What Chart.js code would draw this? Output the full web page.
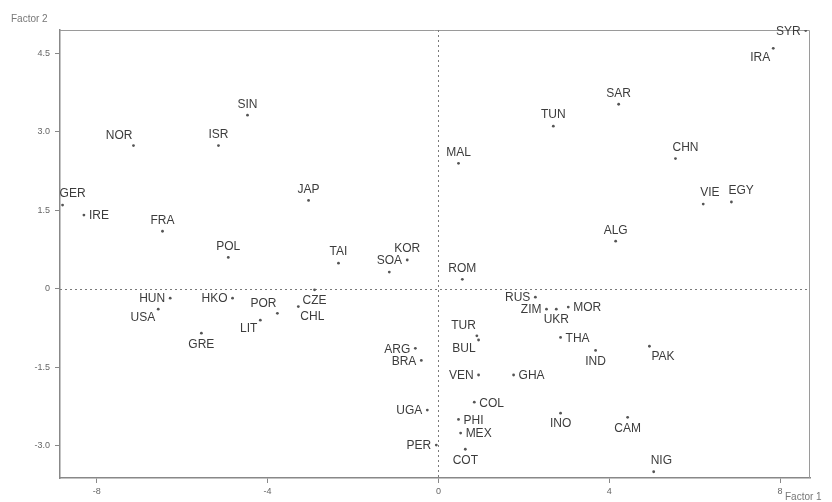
<!DOCTYPE html>
<html>
<head>
<meta charset="utf-8">
<script src="https://cdn.jsdelivr.net/npm/chart.js@4/dist/chart.umd.min.js"></script>
<style>
  html, body { margin: 0; padding: 0; background: #ffffff; }
  #wrap { width: 832px; height: 502px; }
</style>
</head>
<body>
<div id="wrap"><canvas id="c" width="832" height="502"></canvas></div>
<script>
// ---- Data ----
const countries = ['SYR','IRA','SAR','TUN','MAL','CHN','VIE','EGY','ALG','ROM',
  'RUS','ZIM','UKR','MOR','THA','IND','PAK','TUR','BUL','VEN','GHA','COL','PHI','MEX','COT',
  'INO','CAM','NIG','PER','UGA','ARG','BRA','CZE','CHL','HUN','USA','HKO','POR','LIT','GRE',
  'GER','IRE','FRA','NOR','ISR','SIN','JAP','POL','TAI','KOR','SOA'];
const factor1 = [8.6, 7.84, 4.22, 2.69, 0.47, 5.55, 6.2, 6.86, 4.15, 0.56,
  2.27, 2.53, 2.76, 3.04, 2.86, 3.68, 4.94, 0.9, 0.94, 0.94, 1.76, 0.84, 0.47, 0.52, 0.63,
  2.86, 4.43, 5.04, -0.05, -0.26, -0.54, -0.4, -2.9, -3.28, -6.28, -6.56, -4.82, -3.77, -4.17, -5.55,
  -8.8, -8.3, -6.46, -7.14, -5.15, -4.47, -3.04, -4.92, -2.34, -0.73, -1.15];
const factor2 = [4.94, 4.6, 3.53, 3.11, 2.4, 2.49, 1.62, 1.66, 0.91, 0.18,
  -0.16, -0.39, -0.39, -0.35, -0.93, -1.18, -1.1, -0.9, -0.98, -1.65, -1.65, -2.17, -2.5, -2.76, -3.07,
  -2.38, -2.46, -3.5, -2.99, -2.32, -1.14, -1.37, -0.02, -0.34, -0.18, -0.39, -0.18, -0.47, -0.6, -0.85,
  1.6, 1.41, 1.1, 2.74, 2.74, 3.32, 1.69, 0.6, 0.49, 0.55, 0.32];
// label side relative to each point
const labelSide = ['W','SW','N','N','N','NE','NE','NE','N','N',
  'W','W','S','E','E','S','SE','NW','SW','W','E','E','E','E','S',
  'S','S','NE','W','W','W','W','S','SE','W','SW','W','NW','SW','S',
  'NE','E','N','NW','N','N','N','N','N','N','N'];
const xTicks = [-8, -4, 0, 4, 8];
const yTicks = [4.5, 3.0, 1.5, 0, -1.5, -3.0];
const xTitle = 'Factor 1';
const yTitle = 'Factor 2';

const points = countries.map((c, i) => ({ x: factor1[i], y: factor2[i] }));

const labelPlugin = {
  id: 'countryLabels',
  afterDatasetsDraw(chart) {
    const ctx = chart.ctx;
    const meta = chart.getDatasetMeta(0);
    ctx.save();
    ctx.font = '12px "Liberation Sans", Arial, sans-serif';
    ctx.fillStyle = '#3c3c3c';
    ctx.textBaseline = 'middle';
    meta.data.forEach((el, i) => {
      const side = labelSide[i];
      let dx = 0, dy = 0, align = 'center';
      switch (side) {
        case 'N': dy = -11; break;
        case 'S': dy = 11; break;
        case 'W': align = 'right'; dx = -5; dy = 1; break;
        case 'E': align = 'left'; dx = 5; dy = 1; break;
        case 'NW': align = 'right'; dx = -1; dy = -10; break;
        case 'NE': align = 'left'; dx = -3; dy = -11; break;
        case 'SW': align = 'right'; dx = -3; dy = 9; break;
        case 'SE': align = 'left'; dx = 2; dy = 10; break;
      }
      ctx.textAlign = align;
      ctx.fillText(countries[i], el.x + dx, el.y + dy);
    });
    ctx.restore();
  }
};

const framePlugin = {
  id: 'frame',
  beforeDatasetsDraw(chart) {
    const { ctx, chartArea: a, scales } = chart;
    ctx.save();
    // top and right frame
    ctx.strokeStyle = '#9a9a9a';
    ctx.lineWidth = 1;
    ctx.beginPath();
    ctx.moveTo(a.left, a.top + 0.5);
    ctx.lineTo(a.right - 0.5, a.top + 0.5);
    ctx.lineTo(a.right - 0.5, a.bottom);
    ctx.stroke();
    // dotted reference lines at zero
    ctx.strokeStyle = '#7a7a7a';
    ctx.setLineDash([2, 3]);
    const x0 = Math.round(scales.x.getPixelForValue(0)) + 0.5;
    const y0 = Math.round(scales.y.getPixelForValue(0)) + 0.5;
    ctx.beginPath();
    ctx.moveTo(x0, a.top);
    ctx.lineTo(x0, a.bottom);
    ctx.moveTo(a.left, y0);
    ctx.lineTo(a.right, y0);
    ctx.stroke();
    ctx.setLineDash([]);
    // axis titles
    ctx.fillStyle = '#777';
    ctx.font = '10px "Liberation Sans", Arial, sans-serif';
    ctx.textBaseline = 'middle';
    ctx.textAlign = 'left';
    ctx.fillText(yTitle, 11, 19);
    ctx.fillText(xTitle, 785, 497);
    ctx.restore();
  }
};

new Chart(document.getElementById('c'), {
  type: 'scatter',
  data: {
    datasets: [{
      data: points,
      pointRadius: 1.4,
      pointBackgroundColor: '#555',
      pointBorderWidth: 0,
      pointStyle: 'circle'
    }]
  },
  options: {
    responsive: false,
    animation: false,
    layout: { padding: { top: 30, right: 22, left: 0, bottom: 0 } },
    plugins: { legend: { display: false }, tooltip: { enabled: false } },
    scales: {
      x: {
        type: 'linear', min: -8.86, max: 8.7,
        afterBuildTicks: s => { s.ticks = xTicks.map(v => ({ value: v })); },
        afterFit: s => { s.height = 24; },
        ticks: {
          color: '#666', padding: 3,
          font: { size: 9, family: '"Liberation Sans", Arial, sans-serif' },
          callback: v => String(v)
        },
        grid: { drawOnChartArea: false, drawTicks: true, tickLength: 5, color: '#888' },
        border: { color: '#888', width: 1.5 }
      },
      y: {
        type: 'linear', min: -3.62, max: 4.95,
        afterBuildTicks: s => { s.ticks = yTicks.map(v => ({ value: v })); },
        afterFit: s => { s.width = 60; },
        ticks: {
          color: '#666', padding: 5,
          font: { size: 9, family: '"Liberation Sans", Arial, sans-serif' },
          callback: v => (v === 0 ? '0' : v.toFixed(1))
        },
        grid: { drawOnChartArea: false, drawTicks: true, tickLength: 5, color: '#888' },
        border: { color: '#888', width: 1.5 }
      }
    }
  },
  plugins: [framePlugin, labelPlugin]
});
</script>
</body>
</html>
